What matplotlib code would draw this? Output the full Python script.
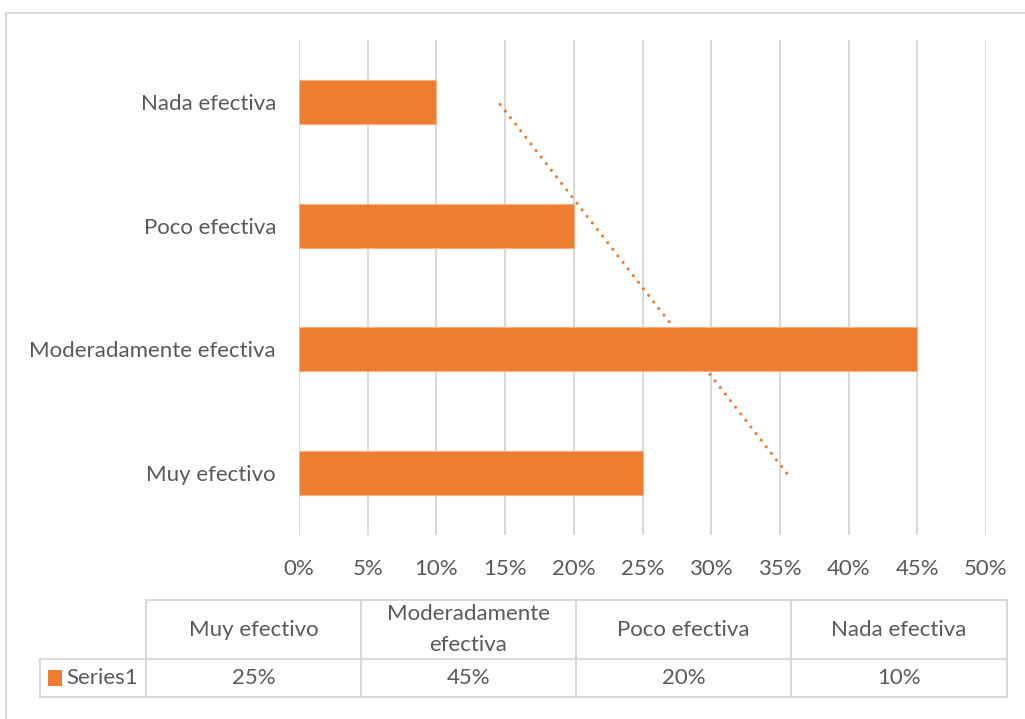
import numpy as np
import matplotlib
matplotlib.use("Agg")
import matplotlib.pyplot as plt
from matplotlib.patches import Rectangle
from matplotlib.lines import Line2D
from matplotlib.ticker import PercentFormatter, MultipleLocator

categories = ["Muy efectivo", "Moderadamente efectiva", "Poco efectiva", "Nada efectiva"]
table_headers = ["Muy efectivo", "Moderadamente\nefectiva", "Poco efectiva", "Nada efectiva"]
values = [25, 45, 20, 10]
series_name = "Series1"

ORANGE = "#ED7D31"
TXT = "#595959"
GRID = "#D9D9D9"
FONT = "Lato"
FS = 16

W, H = 1025, 719
fig = plt.figure(figsize=(W / 100, H / 100), dpi=100)

def fx(px):
    return px / W

def fy(py):
    return 1 - py / H

# chart outer border
fig.add_artist(Rectangle((fx(5.5), fy(760)), fx(1100), fy(12.5) - fy(760), transform=fig.transFigure,
                         fill=False, edgecolor=GRID, linewidth=1.5))

ax = fig.add_axes([fx(299), fy(535), fx(986) - fx(299), fy(40) - fy(535)])
y = np.arange(len(categories))
ax.barh(y, values, height=0.355, color=ORANGE, edgecolor="#F4B183", linewidth=0.8, zorder=3)

# linear trendline
coef = np.polyfit(y, values, 1)
trend = np.polyval(coef, y[[0, -1]])
ax.plot(trend, y[[0, -1]], linestyle=(0, (0.01, 2.6)), color=ORANGE, linewidth=2.3,
        dash_capstyle="round", zorder=2)

ax.set_xlim(0, 50)
ax.set_ylim(-0.5, len(categories) - 0.5)
ax.xaxis.set_major_locator(MultipleLocator(5))
ax.xaxis.set_major_formatter(PercentFormatter(decimals=0))
ax.grid(axis="x", color=GRID, linewidth=1.5, zorder=0)
ax.set_axisbelow(True)
for s in ax.spines.values():
    s.set_visible(False)
ax.tick_params(axis="both", length=0, labelsize=FS, labelcolor=TXT)
ax.tick_params(axis="x", pad=17)
ax.tick_params(axis="y", pad=16.5)
ax.set_yticks(y)
ax.set_yticklabels(categories)
for lab in ax.get_xticklabels() + ax.get_yticklabels():
    lab.set_fontfamily(FONT)

# data table
col_edges = [146, 361, 576, 791, 1007]
top, mid, bot = 600, 659, 697
left_row = 40
lw = 1.5
def hline(x0, x1, yy):
    fig.add_artist(Line2D([fx(x0), fx(x1)], [fy(yy), fy(yy)], color=GRID, linewidth=lw))
def vline(xx, y0, y1):
    fig.add_artist(Line2D([fx(xx), fx(xx)], [fy(y0), fy(y1)], color=GRID, linewidth=lw))
hline(col_edges[0], col_edges[-1], top)
hline(left_row, col_edges[-1], mid)
hline(left_row, col_edges[-1], bot)
for xe in col_edges:
    vline(xe, top, bot)
vline(left_row, mid, bot)

for i, (hdr, v) in enumerate(zip(table_headers, values)):
    cx = (col_edges[i] + col_edges[i + 1]) / 2
    fig.text(fx(cx), fy((top + mid) / 2), hdr, ha="center", va="center", fontsize=FS,
             color=TXT, family=FONT, linespacing=1.65)
    fig.text(fx(cx), fy((mid + bot) / 2), f"{v}%", ha="center", va="center", fontsize=FS,
             color=TXT, family=FONT)

fig.add_artist(Rectangle((fx(48), fy(686)), fx(14), fy(670) - fy(686), transform=fig.transFigure,
                         facecolor=ORANGE, edgecolor="none"))
fig.text(fx(66), fy((mid + bot) / 2), series_name, ha="left", va="center", fontsize=FS,
         color=TXT, family=FONT)

fig.savefig("out.png", dpi=100, facecolor="white")
